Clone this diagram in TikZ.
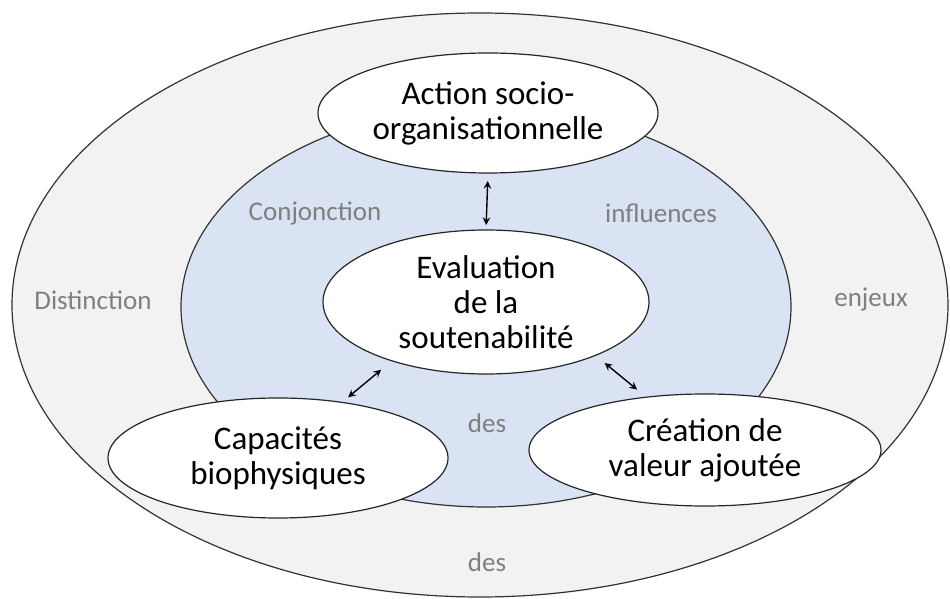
\documentclass[tikz,border=0pt]{standalone}
\usepackage{fontspec}
\setmainfont{Carlito}
\usetikzlibrary{shapes.geometric}
\definecolor{ringgrey}{HTML}{F2F2F2}
\definecolor{ringblue}{HTML}{DAE3F3}
\definecolor{wordgrey}{HTML}{7F7F7F}
\tikzset{
  ring/.style={draw=black!80,line width=0.6pt},
  pole/.style={ellipse,draw=black!85,fill=white,line width=0.6pt,inner sep=-2pt,outer sep=0pt,align=center,font=\fontsize{16.5}{17.5}\selectfont},
  link/.style={<->,line width=0.7pt},
  word/.style={text=wordgrey,font=\fontsize{13.5}{16}\selectfont}
}
\begin{document}
\begin{tikzpicture}[x=0.5pt,y=-0.5pt,>=stealth]
\useasboundingbox (0,0) rectangle (950,599);
% rings
\filldraw[ring,fill=ringgrey](480,305) ellipse [x radius=234pt,y radius=146pt];
\filldraw[ring,fill=ringblue](486,307) ellipse [x radius=152.5pt,y radius=100pt];
% poles
\node[pole,minimum width=170pt,minimum height=60pt](action) at (488,113){Action socio-\\organisationnelle};
\node[pole,minimum width=163pt,minimum height=72pt](evaluation) at (486,302){Evaluation\\de la\\soutenabilité};
\node[pole,minimum width=170pt,minimum height=60pt](capacites) at (278,458){Capacités\\biophysiques};
\node[pole,minimum width=176pt,minimum height=56pt](creation) at (705,450){Création de\\valeur ajoutée};
% links
\draw[link,shorten <=4pt,shorten >=2.5pt](action.south) -- (evaluation.north);
\draw[link,shorten <=7pt,shorten >=4pt](evaluation.212) -- (capacites.41);
\draw[link,shorten <=6pt,shorten >=6pt](evaluation.334) -- (creation.138);
% words
\node[word](conj) at (315,213){Conjonction};
\node[word](infl) at (661,213){influences};
\node[word](desin) at (487,423){des};
\node[word](dist) at (93,300){Distinction};
\node[word](enj) at (871,300){enjeux};
\node[word](desout) at (487,562){des};
\end{tikzpicture}
\end{document}
